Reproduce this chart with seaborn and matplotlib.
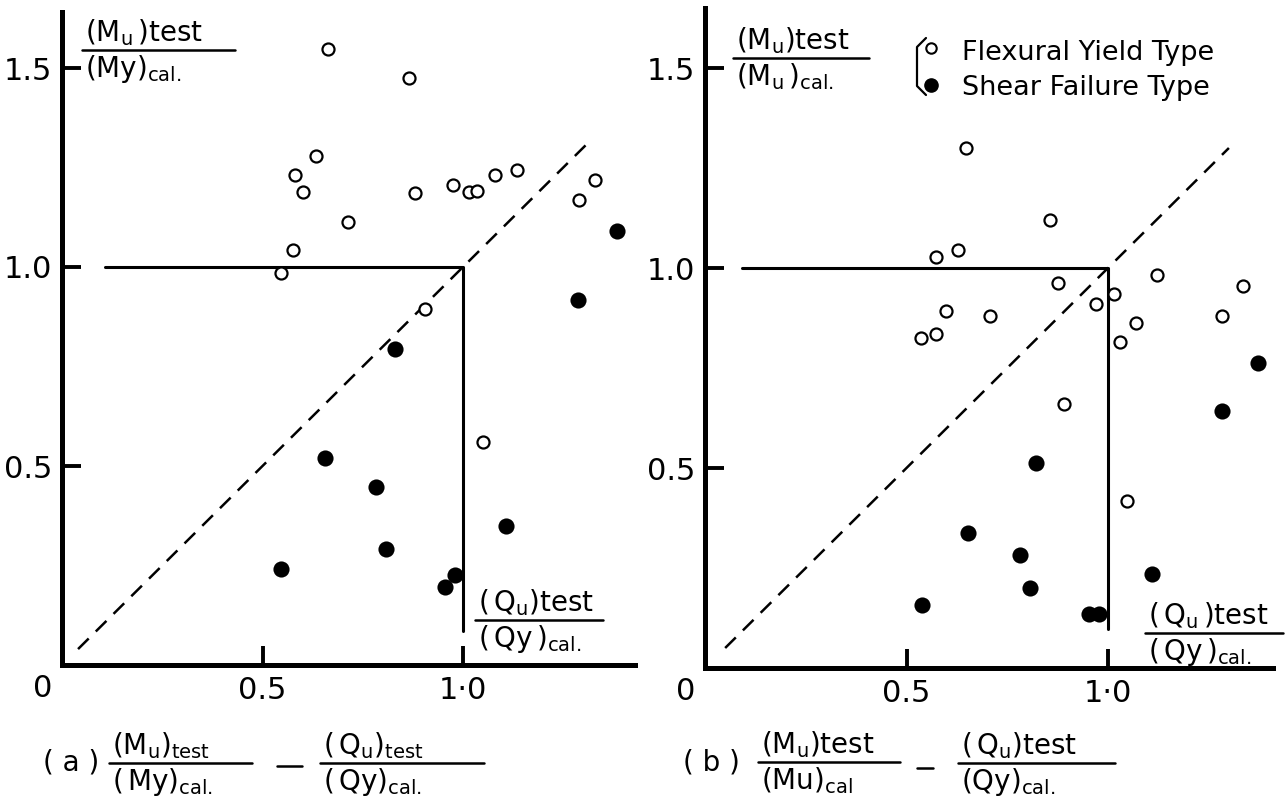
import numpy as np
import pandas as pd
import matplotlib
matplotlib.use("Agg")
import matplotlib.pyplot as plt
import seaborn as sns
from matplotlib.lines import Line2D

# --- data: (Qu)test/(Qy)cal. on x ---
# panel (a): y = (Mu)test/(My)cal.
xa_flex = [0.663, 0.865, 0.633, 0.580, 0.602, 0.712, 0.576, 0.546, 0.881,
           0.974, 1.015, 1.036, 1.080, 1.135, 1.289, 1.330, 0.906, 1.051]
ya_flex = [1.547, 1.476, 1.279, 1.231, 1.189, 1.114, 1.042, 0.986, 1.187,
           1.205, 1.189, 1.191, 1.231, 1.244, 1.169, 1.218, 0.894, 0.561]
xa_shear = [1.383, 1.286, 0.830, 0.655, 0.783, 0.807, 1.108, 0.545, 0.954, 0.980]
ya_shear = [1.091, 0.917, 0.793, 0.519, 0.446, 0.292, 0.348, 0.241, 0.195, 0.226]

# panel (b): y = (Mu)test/(Mu)cal
xb_flex = [0.648, 0.857, 0.574, 0.629, 0.877, 0.597, 0.706, 0.536, 0.574,
           0.970, 1.014, 1.030, 1.070, 1.122, 1.282, 1.335, 0.892, 1.048]
yb_flex = [1.301, 1.120, 1.028, 1.045, 0.963, 0.893, 0.879, 0.825, 0.834,
           0.909, 0.936, 0.814, 0.863, 0.982, 0.880, 0.955, 0.659, 0.418]
xb_shear = [1.373, 1.282, 0.821, 0.652, 0.782, 0.807, 1.108, 0.539, 0.954, 0.978]
yb_shear = [0.763, 0.642, 0.513, 0.338, 0.282, 0.201, 0.236, 0.158, 0.136, 0.136]

xticks = [0.5, 1.0]
xticklabels = ["0.5", "1·0"]
yticks = [0.5, 1.0, 1.5]
yticklabels = ["0.5", "1.0", "1.5"]
legend_labels = ["Flexural Yield Type", "Shear Failure Type"]

W, H = 1285, 806
sns.set_theme(style="ticks")
plt.rcParams["font.family"] = ["DejaVu Sans"]
plt.rcParams["mathtext.default"] = "regular"
plt.rcParams["text.color"] = "black"

fig = plt.figure(figsize=(W / 100, H / 100), dpi=100)


def make_axes(x0, y0, sx, sy, xmax, ymax):
    # x0, y0: pixel position of the data origin; sx, sy: pixels per unit
    ax = fig.add_axes([x0 / W, 1 - y0 / H, xmax * sx / W, ymax * sy / H])
    ax.set_xlim(0, xmax)
    ax.set_ylim(0, ymax)
    for s in ["top", "right"]:
        ax.spines[s].set_visible(False)
    for s in ["left", "bottom"]:
        ax.spines[s].set_linewidth(3.6)
        ax.spines[s].set_color("black")
    ax.set_xticks(xticks)
    ax.set_xticklabels(xticklabels)
    ax.set_yticks(yticks)
    ax.set_yticklabels(yticklabels)
    ax.tick_params(direction="in", length=14, width=2.8, labelsize=22,
                   color="black", labelcolor="black", bottom=True, left=True)
    ax.tick_params(axis="x", pad=8)
    ax.tick_params(axis="y", pad=7)
    ax.set_xlabel("")
    ax.set_ylabel("")
    ax.set_facecolor("white")
    return ax


def draw_panel(ax, xf, yf, xs, ys, diag, box):
    ax.plot(diag, diag, color="black", lw=1.8, ls=(0, (6, 4)))
    ax.plot([box[0], 1.0, 1.0], [1.0, 1.0, box[1]], color="black", lw=2.2)
    sns.scatterplot(x=xf, y=yf, ax=ax, s=75, facecolor="white",
                    edgecolor="black", linewidth=1.6, zorder=3)
    sns.scatterplot(x=xs, y=ys, ax=ax, s=135, color="black",
                    edgecolor="black", linewidth=0, zorder=3)
    ax.text(-0.048, -0.06, "0", fontsize=22, ha="center", va="center",
            transform=ax.transData, clip_on=False)


def hline(x0, x1, y, lw=1.8):
    fig.add_artist(Line2D([x0 / W, x1 / W], [1 - y / H, 1 - y / H],
                          color="black", lw=lw))


def frac(x0, x1, y, num, den, size=20):
    # fraction drawn in figure pixel coords (top-left origin)
    hline(x0, x1, y)
    fig.text((x0 + 3) / W, 1 - (y - 2) / H, num, fontsize=size,
             ha="left", va="bottom")
    fig.text((x0 + 3) / W, 1 - (y + 3) / H, den, fontsize=size,
             ha="left", va="top")


ax_a = make_axes(62, 665, 401, 398, 1.43, 1.64)
draw_panel(ax_a, xa_flex, ya_flex, xa_shear, ya_shear, [0.04, 1.31], (0.107, 0.086))

ax_b = make_axes(705, 668, 403, 400, 1.41, 1.65)
draw_panel(ax_b, xb_flex, yb_flex, xb_shear, yb_shear, [0.05, 1.30], (0.093, 0.098))

# axis labels written as fractions
frac(82, 235, 50, r"$\mathregular{(M_u\,)test}$", r"$\mathregular{(My)_{cal.}}$")
frac(475, 603, 620, r"$\mathregular{(\,Q_u)test}$", r"$\mathregular{(\,Qy\,)_{cal.}}$")
frac(733, 869, 58, r"$\mathregular{(M_u)test}$", r"$\mathregular{(M_u\,)_{cal.}}$")
frac(1145, 1283, 633, r"$\mathregular{(\,Q_u\,)test}$", r"$\mathregular{(\,Qy\,)_{cal.}}$")

# captions
fig.text(43 / W, 1 - 763 / H, "( a )", fontsize=20, ha="left", va="center")
frac(109, 252, 763, r"$\mathregular{(M_u)_{test}}$", r"$\mathregular{(\,My)_{cal.}}$")
hline(277, 302, 766)
frac(320, 484, 763, r"$\mathregular{(\,Q_u)_{test}}$", r"$\mathregular{(\,Qy)_{cal.}}$")

fig.text(683 / W, 1 - 762 / H, "( b )", fontsize=20, ha="left", va="center")
frac(758, 900, 762, r"$\mathregular{(M_u)test}$", r"$\mathregular{(Mu)_{cal}}$")
hline(917, 933, 768)
frac(958, 1115, 763, r"$\mathregular{(\,Q_u)test}$", r"$\mathregular{(Qy)_{cal.}}$")

# legend with bracket (panel b)
fig.add_artist(Line2D([926 / W, 917 / W, 917 / W, 926 / W],
                      [1 - 38 / H, 1 - 47 / H, 1 - 86 / H, 1 - 95 / H],
                      color="black", lw=1.6))
fig.add_artist(Line2D([931 / W], [1 - 48 / H], marker="o", markersize=7.5,
                      markerfacecolor="white", markeredgecolor="black",
                      markeredgewidth=1.5, ls="none"))
fig.add_artist(Line2D([931 / W], [1 - 85 / H], marker="o", markersize=9.5,
                      markerfacecolor="black", markeredgecolor="black", ls="none"))
fig.text(962 / W, 1 - 60 / H, legend_labels[0], fontsize=19.5, ha="left", va="baseline")
fig.text(962 / W, 1 - 95 / H, legend_labels[1], fontsize=19.5, ha="left", va="baseline")

fig.savefig("out.png", dpi=100, facecolor="white")
